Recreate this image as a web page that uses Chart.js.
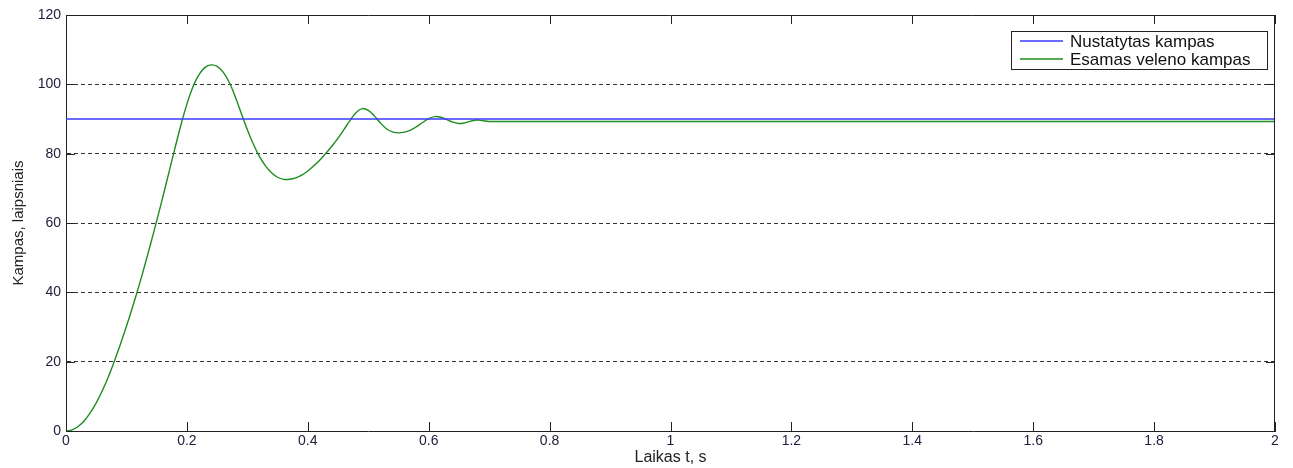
<!DOCTYPE html>
<html>
<head>
<meta charset="utf-8">
<script src="https://cdn.jsdelivr.net/npm/chart.js@4.4.1/dist/chart.umd.min.js"></script>
<style>
  html, body { margin: 0; padding: 0; background: #ffffff; }
  #wrap { width: 1293px; height: 468px; position: relative; }
</style>
</head>
<body>
<div id="wrap"><canvas id="c" width="1293" height="468"></canvas></div>
<script>
// ---- data ----
const seriesLabels = ['Nustatytas kampas', 'Esamas veleno kampas'];
const setpointTime = [0, 2];
const setpointAngle = [90, 90];
const timeSec = [
  0, 0.01, 0.02, 0.03, 0.04, 0.05, 0.06, 0.07, 0.08, 0.09,
  0.10, 0.11, 0.12, 0.13, 0.14, 0.15, 0.16, 0.17, 0.18, 0.19,
  0.20, 0.21, 0.22, 0.23, 0.24, 0.25, 0.26, 0.27, 0.28, 0.29,
  0.30, 0.31, 0.32, 0.33, 0.34, 0.35, 0.36, 0.37, 0.38, 0.39,
  0.40, 0.41, 0.42, 0.43, 0.44, 0.45, 0.46, 0.47, 0.48, 0.49,
  0.50, 0.51, 0.52, 0.53, 0.54, 0.55, 0.56, 0.57, 0.58, 0.59,
  0.60, 0.61, 0.62, 0.63, 0.64, 0.65, 0.66, 0.67, 0.68, 0.69,
  0.70, 0.80, 1.00, 1.50, 2.00
];
const actualAngle = [
  0, 0.3, 1.3, 2.9, 5.2, 8.1, 11.6, 15.6, 20.1, 25.0,
  30.2, 35.7, 41.5, 47.6, 54.0, 60.6, 67.4, 74.4, 81.4, 88.2,
  94.3, 99.3, 102.8, 104.9, 105.6, 105.2, 103.5, 100.6, 96.4, 91.6,
  86.9, 82.7, 79.2, 76.5, 74.5, 73.2, 72.6, 72.6, 73.0, 73.8,
  75.0, 76.5, 78.2, 80.1, 82.2, 84.5, 87.0, 89.6, 91.9, 93.0,
  92.5, 90.9, 88.9, 87.2, 86.3, 86.0, 86.2, 86.8, 87.8, 89.0,
  90.1, 90.7, 90.5, 89.8, 89.1, 88.7, 88.9, 89.4, 89.7, 89.5,
  89.3, 89.3, 89.3, 89.3, 89.3
];
const xTicks = [0, 0.2, 0.4, 0.6, 0.8, 1, 1.2, 1.4, 1.6, 1.8, 2];
const yTicks = [0, 20, 40, 60, 80, 100, 120];
const xTitle = 'Laikas t, s';
const yTitle = 'Kampas, laipsniais';

const FONT = "'Liberation Sans', Arial, sans-serif";
const BOX = '#222222';

// inward ticks, top/right box, legend inside the axes
const matlabAxes = {
  id: 'matlabAxes',
  afterDraw(chart) {
    const {ctx, chartArea: a, scales: {x, y}} = chart;
    ctx.save();
    ctx.strokeStyle = BOX;
    ctx.lineWidth = 1;
    ctx.beginPath();
    ctx.moveTo(a.left, a.top + 0.5); ctx.lineTo(a.right, a.top + 0.5);
    ctx.moveTo(a.right - 0.5, a.top); ctx.lineTo(a.right - 0.5, a.bottom);
    const tl = 9;
    xTicks.forEach(v => {
      const px = Math.round(x.getPixelForValue(v)) + 0.5;
      ctx.moveTo(px, a.bottom); ctx.lineTo(px, a.bottom - tl);
      ctx.moveTo(px, a.top); ctx.lineTo(px, a.top + tl);
    });
    yTicks.forEach(v => {
      const py = Math.round(y.getPixelForValue(v)) + 0.5;
      ctx.moveTo(a.left, py); ctx.lineTo(a.left + tl, py);
      ctx.moveTo(a.right, py); ctx.lineTo(a.right - tl, py);
    });
    ctx.stroke();

    // legend
    const lx = 1011, ly = 31, lw = 257, lh = 39;
    ctx.fillStyle = '#ffffff';
    ctx.fillRect(lx, ly, lw, lh);
    ctx.strokeStyle = '#222';
    ctx.strokeRect(lx + 0.5, ly + 0.5, lw - 1, lh - 1);
    ctx.font = '17px ' + FONT;
    ctx.textBaseline = 'middle';
    ctx.textAlign = 'left';
    chart.data.datasets.forEach((ds, i) => {
      const yy = ly + 10 + i * 18;
      ctx.strokeStyle = ds.borderColor;
      ctx.lineWidth = 1.3;
      ctx.beginPath();
      ctx.moveTo(lx + 9, yy); ctx.lineTo(lx + 52, yy);
      ctx.stroke();
      ctx.fillStyle = '#111';
      ctx.fillText(ds.label, lx + 59, yy + 1);
    });
    ctx.restore();
  }
};

new Chart(document.getElementById('c'), {
  type: 'line',
  data: {
    datasets: [
      {
        label: seriesLabels[0],
        data: setpointTime.map((t, i) => ({x: t, y: setpointAngle[i]})),
        borderColor: '#3a3aff',
        borderWidth: 1.4,
        pointRadius: 0,
        fill: false
      },
      {
        label: seriesLabels[1],
        data: timeSec.map((t, i) => ({x: t, y: actualAngle[i]})),
        borderColor: '#1e8c1e',
        borderWidth: 1.4,
        pointRadius: 0,
        tension: 0.4,
        fill: false
      }
    ]
  },
  options: {
    responsive: false,
    animation: false,
    events: [],
    layout: { padding: { left: 0, top: 15, right: 18, bottom: 0 } },
    plugins: { legend: { display: false }, tooltip: { enabled: false } },
    scales: {
      x: {
        type: 'linear',
        min: 0, max: 2,
        afterBuildTicks: s => { s.ticks = xTicks.map(v => ({value: v})); },
        afterFit: s => { s.height = 37; },
        ticks: {
          font: { family: FONT, size: 14 },
          color: '#20203c',
          padding: 2,
          maxRotation: 0,
          autoSkip: false,
          callback: v => String(v)
        },
        grid: { display: false, drawTicks: false },
        border: { display: true, color: BOX, width: 1 },
        title: {
          display: true, text: xTitle,
          font: { family: FONT, size: 16 }, color: '#222',
          padding: { top: 0, bottom: 1 }
        }
      },
      y: {
        type: 'linear',
        min: 0, max: 120,
        afterBuildTicks: s => { s.ticks = yTicks.map(v => ({value: v})); },
        afterFit: s => { s.width = 66; },
        ticks: {
          font: { family: FONT, size: 14 },
          color: '#20203c',
          padding: 5,
          autoSkip: false
        },
        grid: {
          drawTicks: false,
          color: ctx => (ctx.tick && (ctx.tick.value === 0 || ctx.tick.value === 120)) ? 'rgba(0,0,0,0)' : '#333333',
          lineWidth: 1
        },
        border: { display: true, color: BOX, width: 1, dash: [4, 3] },
        title: {
          display: true, text: yTitle,
          font: { family: FONT, size: 15 }, color: '#222',
          padding: { top: 10, bottom: 0 }
        }
      }
    }
  },
  plugins: [matlabAxes]
});
</script>
</body>
</html>
